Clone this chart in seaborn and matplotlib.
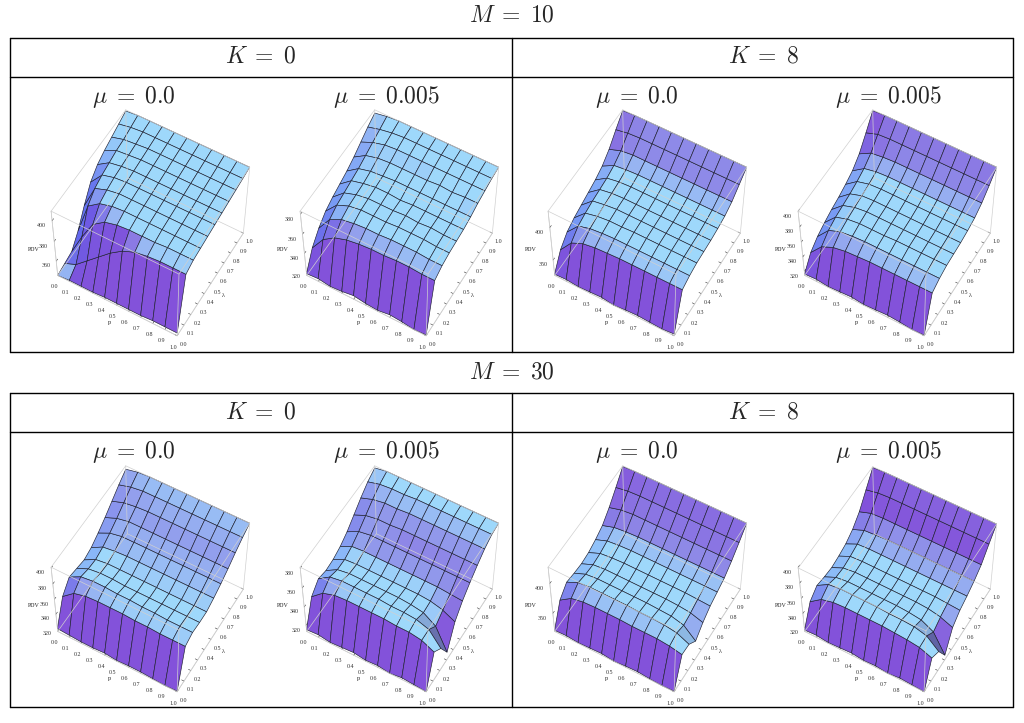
import numpy as np
import matplotlib
matplotlib.use("Agg")
import matplotlib.pyplot as plt
from matplotlib.lines import Line2D
import seaborn as sns

sns.set_theme(style="white")
plt.rcParams["font.family"] = ["Liberation Serif", "DejaVu Serif"]
plt.rcParams["mathtext.fontset"] = "cm"

# grid of the surfaces
p_vals = [0.0, 0.1, 0.2, 0.3, 0.4, 0.5, 0.6, 0.7, 0.8, 0.9, 1.0]
lam_vals = [0.0, 0.1, 0.2, 0.3, 0.4, 0.5, 0.6, 0.7, 0.8, 0.9, 1.0]
tick_vals = [0.0, 0.1, 0.2, 0.3, 0.4, 0.5, 0.6, 0.7, 0.8, 0.9, 1.0]

# PDV values, one row per lambda (0.0 .. 1.0), one column per p (0.0 .. 1.0)
pdv_m10_k0_mu0 = [
    [345, 346, 346, 346, 347, 347, 347, 347, 348, 348, 348],
    [347, 352, 362, 372, 382, 390, 395, 397, 398, 398, 398],
    [349, 370, 388, 396, 399, 400, 400, 400, 401, 401, 401],
    [360, 390, 398, 401, 402, 402, 402, 402, 402, 402, 402],
    [375, 397, 401, 403, 403, 403, 403, 403, 403, 403, 403],
    [388, 400, 403, 404, 404, 404, 404, 404, 404, 404, 404],
    [395, 402, 404, 405, 405, 405, 405, 405, 405, 405, 405],
    [399, 404, 405, 406, 406, 406, 406, 406, 406, 406, 406],
    [402, 405, 406, 407, 407, 407, 407, 407, 407, 407, 407],
    [405, 407, 408, 408, 408, 408, 408, 408, 408, 408, 408],
    [408, 409, 409, 409, 409, 409, 409, 409, 409, 409, 409],
]
pdv_m10_k0_mu005 = [
    [318, 319, 317, 318, 320, 318, 317, 319, 318, 316, 317],
    [335, 350, 358, 362, 364, 365, 365, 366, 366, 365, 365],
    [345, 360, 366, 368, 369, 369, 370, 370, 370, 369, 369],
    [352, 364, 369, 371, 371, 371, 372, 372, 372, 371, 371],
    [356, 366, 370, 372, 372, 372, 373, 372, 373, 372, 372],
    [359, 368, 371, 373, 373, 372, 373, 373, 373, 373, 373],
    [362, 370, 373, 374, 375, 375, 375, 375, 375, 375, 375],
    [366, 373, 376, 377, 377, 377, 377, 378, 377, 378, 378],
    [371, 376, 379, 380, 380, 380, 380, 380, 380, 380, 380],
    [376, 379, 381, 382, 382, 382, 382, 382, 382, 382, 382],
    [380, 382, 383, 383, 383, 383, 383, 383, 383, 383, 383],
]
pdv_m10_k8_mu0 = [
    [327, 328, 326, 327, 328, 325, 327, 328, 327, 326, 328],
    [350, 370, 378, 381, 382, 383, 383, 383, 383, 383, 383],
    [362, 380, 385, 387, 388, 388, 388, 388, 388, 388, 388],
    [368, 384, 388, 390, 390, 391, 391, 391, 391, 391, 391],
    [372, 387, 390, 392, 392, 392, 392, 392, 392, 392, 392],
    [376, 389, 392, 393, 393, 393, 393, 393, 393, 393, 393],
    [380, 391, 394, 395, 395, 395, 395, 395, 395, 395, 395],
    [386, 395, 397, 398, 398, 398, 398, 398, 398, 398, 398],
    [396, 402, 404, 404, 404, 404, 404, 404, 404, 404, 404],
    [410, 413, 414, 414, 414, 414, 414, 414, 414, 414, 414],
    [423, 424, 424, 424, 424, 424, 424, 424, 424, 424, 424],
]
pdv_m10_k8_mu005 = [
    [316, 317, 315, 316, 317, 315, 316, 317, 316, 314, 315],
    [332, 348, 355, 358, 359, 360, 360, 360, 360, 360, 360],
    [340, 356, 362, 364, 365, 365, 365, 365, 365, 365, 365],
    [345, 360, 365, 367, 367, 367, 368, 368, 368, 368, 368],
    [349, 362, 367, 369, 369, 369, 369, 369, 369, 369, 369],
    [352, 364, 369, 370, 370, 370, 370, 370, 370, 370, 370],
    [356, 367, 371, 372, 372, 372, 372, 372, 372, 372, 372],
    [361, 371, 374, 375, 375, 375, 375, 375, 375, 375, 375],
    [370, 378, 380, 381, 381, 381, 381, 381, 381, 381, 381],
    [384, 389, 390, 390, 390, 390, 390, 390, 390, 390, 390],
    [399, 400, 400, 400, 400, 400, 400, 400, 400, 400, 400],
]
pdv_m30_k0_mu0 = [
    [320, 319, 318, 318, 319, 317, 318, 318, 317, 316, 317],
    [350, 362, 366, 367, 367, 367, 366, 366, 365, 365, 365],
    [362, 370, 372, 372, 371, 371, 370, 370, 369, 369, 369],
    [360, 367, 369, 369, 368, 368, 368, 368, 368, 368, 368],
    [358, 366, 368, 368, 368, 368, 368, 368, 368, 368, 368],
    [361, 369, 371, 372, 372, 372, 372, 372, 372, 372, 372],
    [367, 374, 377, 377, 377, 377, 377, 377, 377, 377, 377],
    [374, 380, 383, 383, 383, 383, 383, 383, 383, 383, 383],
    [382, 387, 389, 390, 390, 390, 390, 390, 390, 390, 390],
    [390, 394, 396, 396, 396, 396, 396, 396, 396, 396, 396],
    [397, 400, 401, 401, 401, 401, 401, 401, 401, 401, 401],
]
pdv_m30_k0_mu005 = [
    [315, 316, 314, 315, 316, 314, 315, 313, 315, 314, 313],
    [340, 350, 354, 355, 355, 355, 355, 354, 354, 352, 346],
    [348, 356, 358, 358, 358, 358, 357, 357, 356, 352, 338],
    [346, 353, 355, 355, 355, 355, 355, 354, 352, 344, 322],
    [347, 353, 354, 354, 354, 354, 354, 354, 353, 350, 344],
    [350, 356, 357, 357, 357, 357, 357, 357, 357, 356, 355],
    [355, 361, 363, 363, 363, 363, 363, 363, 363, 363, 363],
    [362, 367, 369, 369, 370, 370, 370, 370, 370, 370, 370],
    [369, 373, 375, 375, 376, 376, 376, 376, 376, 376, 376],
    [375, 378, 379, 379, 380, 380, 380, 380, 380, 380, 380],
    [379, 381, 381, 381, 381, 381, 381, 381, 381, 381, 381],
]
pdv_m30_k8_mu0 = [
    [320, 321, 319, 320, 321, 318, 320, 321, 319, 318, 319],
    [355, 368, 372, 373, 373, 373, 372, 372, 372, 370, 366],
    [368, 377, 379, 379, 379, 379, 378, 378, 377, 374, 365],
    [366, 374, 376, 376, 376, 376, 376, 375, 374, 369, 352],
    [365, 373, 375, 375, 375, 375, 375, 375, 374, 372, 366],
    [367, 375, 377, 378, 378, 378, 378, 378, 378, 377, 376],
    [372, 379, 381, 382, 382, 382, 382, 382, 382, 382, 382],
    [379, 385, 387, 388, 388, 388, 388, 388, 388, 388, 388],
    [392, 397, 399, 399, 399, 399, 399, 399, 399, 399, 399],
    [408, 411, 412, 412, 412, 412, 412, 412, 412, 412, 412],
    [425, 426, 426, 426, 426, 426, 426, 426, 426, 426, 426],
]
pdv_m30_k8_mu005 = [
    [317, 318, 316, 317, 318, 316, 317, 315, 317, 316, 315],
    [342, 353, 357, 358, 358, 358, 358, 357, 356, 354, 348],
    [350, 359, 361, 361, 361, 361, 360, 360, 359, 355, 342],
    [348, 355, 357, 357, 357, 357, 357, 356, 354, 346, 322],
    [347, 354, 356, 356, 356, 356, 356, 356, 355, 352, 346],
    [349, 356, 357, 357, 357, 357, 357, 357, 357, 356, 355],
    [352, 359, 360, 360, 360, 360, 360, 360, 360, 360, 360],
    [358, 364, 365, 366, 366, 366, 366, 366, 366, 366, 366],
    [368, 373, 374, 374, 374, 374, 374, 374, 374, 374, 374],
    [383, 386, 387, 387, 387, 387, 387, 387, 387, 387, 387],
    [398, 399, 399, 399, 399, 399, 399, 399, 399, 399, 399],
]

z_ticks_m10_k0_mu0 = [360, 380, 400]
z_ticks_m10_k0_mu005 = [320, 340, 360, 380]
z_ticks_m10_k8_mu0 = [350, 400]
z_ticks_m10_k8_mu005 = [320, 340, 360, 380, 400]
z_ticks_m30_k0_mu0 = [320, 340, 360, 380, 400]
z_ticks_m30_k0_mu005 = [320, 340, 360, 380]
z_ticks_m30_k8_mu0 = [350, 400]
z_ticks_m30_k8_mu005 = [320, 340, 360, 380, 400]

m_labels = [r"$M\;=\;10$", r"$M\;=\;30$"]
k_labels = [r"$K\;=\;0$", r"$K\;=\;8$"]
mu_labels = [r"$\mu\;=\;0.0$", r"$\mu\;=\;0.005$"]

panels = [
    (pdv_m10_k0_mu0, z_ticks_m10_k0_mu0),
    (pdv_m10_k0_mu005, z_ticks_m10_k0_mu005),
    (pdv_m10_k8_mu0, z_ticks_m10_k8_mu0),
    (pdv_m10_k8_mu005, z_ticks_m10_k8_mu005),
    (pdv_m30_k0_mu0, z_ticks_m30_k0_mu0),
    (pdv_m30_k0_mu005, z_ticks_m30_k0_mu005),
    (pdv_m30_k8_mu0, z_ticks_m30_k8_mu0),
    (pdv_m30_k8_mu005, z_ticks_m30_k8_mu005),
]

W, H = 1024, 723
ELEV, AZIM = 57, -60
ASPECT = (1.0, 1.0, 0.85)
COLOR_Z = 0.45  # flatter box used only for the shading
shade_cols = sns.color_palette(["#9ed8fb", "#8352da", "#5563f0", "#46307e"])
light_c, purple_c, blue_c, dark_c = [np.array(c) for c in shade_cols]


def fx(x):
    return x / W


def fy(y):
    return 1 - y / H


def face_colors(P, L, Z, zlo, zhi):
    zs = (Z - zlo) / (zhi - zlo) * COLOR_Z
    dx = P[0, 1] - P[0, 0]
    dy = L[1, 0] - L[0, 0]
    dzx = ((zs[:-1, 1:] - zs[:-1, :-1]) + (zs[1:, 1:] - zs[1:, :-1])) / 2 / dx
    dzy = ((zs[1:, :-1] - zs[:-1, :-1]) + (zs[1:, 1:] - zs[:-1, 1:])) / 2 / dy
    n = np.stack([-dzx, -dzy, np.ones_like(dzx)], -1)
    n /= np.linalg.norm(n, axis=-1, keepdims=True)
    t = np.clip((-n[..., 1] - 0.17) * 2.4, 0, 1)[..., None]
    b = np.clip((-n[..., 0] - 0.15) * 1.6, 0, 1)[..., None]
    d = np.clip((n[..., 1] - 0.25) * 3.0, 0, 1)[..., None]
    col = light_c * (1 - t) + purple_c * t
    col = col * (1 - 0.75 * b) + blue_c * 0.75 * b
    col = col * (1 - d) + dark_c * d
    out = np.ones(Z.shape + (4,))
    out[:-1, :-1, :3] = np.clip(col, 0, 1)
    return out


fig = plt.figure(figsize=(W / 100, H / 100), dpi=100)

centers_x = [148, 397, 645, 895]
centers_y = [226, 582]
box = 250

for idx, (vals, zt) in enumerate(panels):
    r, c = divmod(idx, 4)
    cx, cy = centers_x[c], centers_y[r]
    ax = fig.add_axes([fx(cx - box / 2), fy(cy + box / 2), box / W, box / H],
                      projection="3d")
    ax.patch.set_alpha(0)
    P, L = np.meshgrid(p_vals, lam_vals)
    Z = np.array(vals, dtype=float)
    zlo, zhi = Z.min(), Z.max()
    ax.plot_surface(P, L, Z, facecolors=face_colors(P, L, Z, zlo, zhi),
                    rstride=1, cstride=1, shade=False,
                    edgecolor="#1e2030", linewidth=0.45, antialiased=True)
    ax.set_xlim(0, 1)
    ax.set_ylim(0, 1)
    ax.set_zlim(zlo, zhi)
    ax.set_box_aspect(ASPECT, zoom=0.9)
    ax.view_init(elev=ELEV, azim=AZIM)
    ax.set_proj_type("persp", focal_length=1.1)
    ax.grid(False)
    for axis in (ax.xaxis, ax.yaxis, ax.zaxis):
        axis.set_pane_color((1, 1, 1, 0))
        axis.line.set_color("#c8c8c8")
        axis.line.set_linewidth(0.5)
        axis._axinfo["tick"]["inward_factor"] = 0.0
        axis._axinfo["tick"]["outward_factor"] = 0.25
        axis._axinfo["tick"]["linewidth"][True] = 0.4
    ax.zaxis.set_ticks_position("lower")
    ax.zaxis.set_label_position("lower")
    # bounding box edges
    for xa in (0, 1):
        for ya in (0, 1):
            ax.plot([xa, xa], [ya, ya], [zlo, zhi], color="#d0d0d0", lw=0.5)
    for za in (zlo, zhi):
        ax.plot([0, 1, 1, 0, 0], [0, 0, 1, 1, 0], [za] * 5, color="#d0d0d0", lw=0.5)
    ax.set_xticks(tick_vals)
    ax.set_yticks(tick_vals)
    ax.set_zticks(zt)
    ax.set_xticklabels([f"{v:.1f}" for v in tick_vals])
    ax.set_yticklabels([f"{v:.1f}" for v in tick_vals])
    ax.set_zticklabels([str(v) for v in zt])
    ax.tick_params(axis="both", labelsize=4.3, pad=-3, colors="#333333")
    ax.set_xlabel("p", fontsize=4.5, labelpad=-11)
    ax.set_ylabel("λ", fontsize=4.5, labelpad=-11)
    ax.zaxis.set_rotate_label(False)
    ax.set_zlabel("PDV", fontsize=4.3, labelpad=-11, rotation=0)

# table frames
lw = 1.0
for top, sep, bot in [(38, 77, 352), (393, 432, 707)]:
    for y in (top, sep, bot):
        fig.add_artist(Line2D([fx(10), fx(1013)], [fy(y), fy(y)], color="black", lw=lw))
    for x in (10, 512, 1013):
        fig.add_artist(Line2D([fx(x), fx(x)], [fy(top), fy(bot)], color="black", lw=lw))

fs = 17
for m_lab, y in zip(m_labels, (16, 373)):
    fig.text(fx(512), fy(y), m_lab, ha="center", va="center", fontsize=fs)
for y in (57, 413):
    for k_lab, x in zip(k_labels, (261, 763)):
        fig.text(fx(x), fy(y), k_lab, ha="center", va="center", fontsize=fs)
for y in (97, 452):
    for j, x in enumerate((134, 386, 637, 888)):
        fig.text(fx(x), fy(y), mu_labels[j % 2], ha="center", va="center", fontsize=fs)

fig.savefig("out.png", dpi=100)
